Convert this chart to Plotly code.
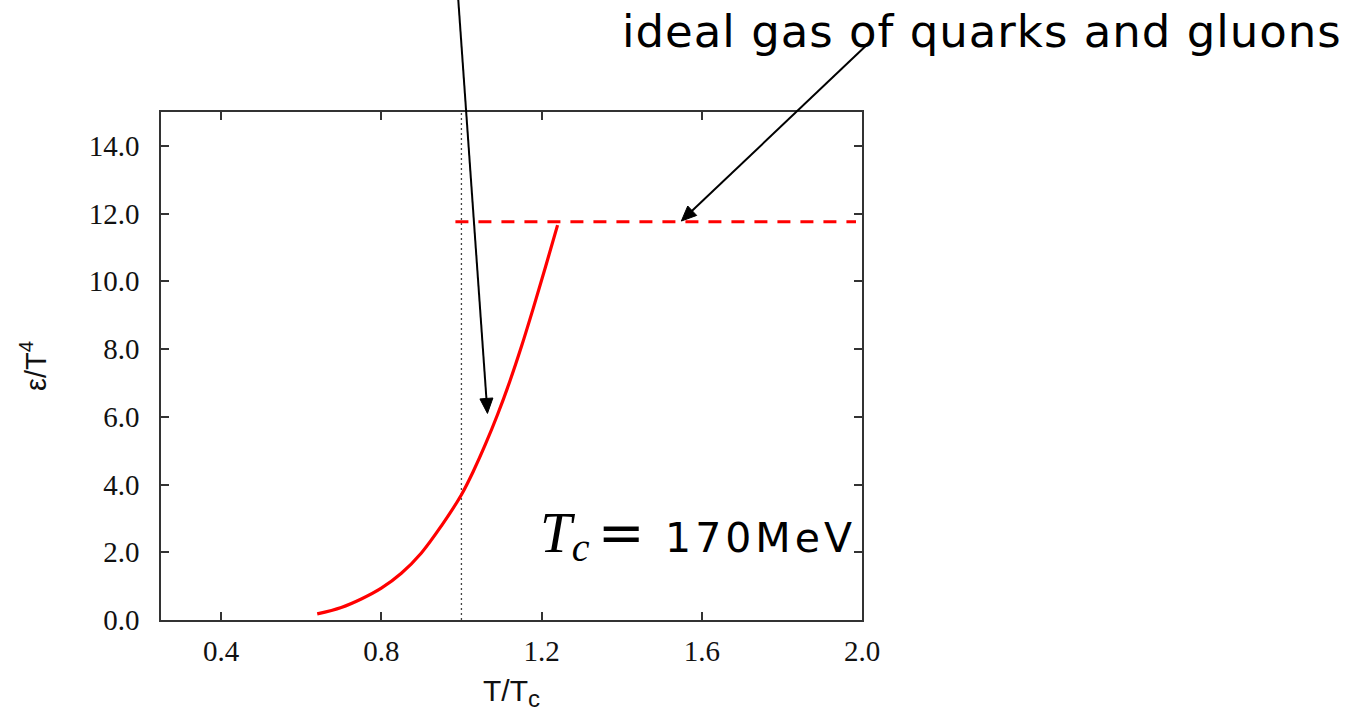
import math
import plotly.graph_objects as go

# ---- data ----
t_curve = [0.64, 0.70, 0.75, 0.80, 0.85, 0.90, 0.95, 1.00, 1.03, 1.06, 1.09, 1.12, 1.15, 1.18, 1.21, 1.24]
e_curve = [0.18, 0.37, 0.62, 0.94, 1.38, 1.98, 2.78, 3.70, 4.40, 5.19, 6.06, 7.02, 8.08, 9.23, 10.43, 11.66]
t_ideal = [0.985, 1.985]
e_ideal = [11.76, 11.76]
t_crit = [1.0, 1.0]
e_crit = [0.0, 15.0]
x_ticks = [0.4, 0.8, 1.2, 1.6, 2.0]
y_ticks = [0, 2, 4, 6, 8, 10, 12, 14]

W, H = 1348, 712
L, R, T, B = 161, 486, 112, 92
PW, PH = W - L - R, H - T - B
XR = [0.25, 2.0]
YR = [0, 15]


def px2paper(px, py):
    return (px - L) / PW, (H - B - py) / PH


def data2px(x, y):
    return (L + (x - XR[0]) / (XR[1] - XR[0]) * PW,
            H - B - (y - YR[0]) / (YR[1] - YR[0]) * PH)


def arrow_shapes(tail_px, tip_data, head_len=15, head_half=6.5, width=2):
    tx, ty = tail_px
    px, py = data2px(*tip_data)
    dx, dy = px - tx, py - ty
    n = math.hypot(dx, dy)
    ux, uy = dx / n, dy / n
    bx, by = px - head_len * ux, py - head_len * uy
    nx, ny = -uy, ux
    c1 = (bx + head_half * nx, by + head_half * ny)
    c2 = (bx - head_half * nx, by - head_half * ny)
    x0, y0 = px2paper(tx, ty)
    x1, y1 = px2paper(bx + 2 * ux, by + 2 * uy)
    line = dict(type="line", xref="paper", yref="paper", x0=x0, y0=y0, x1=x1, y1=y1,
                line=dict(color="#000000", width=width))
    pts = [px2paper(px, py), px2paper(*c1), px2paper(*c2)]
    path = "M{},{} L{},{} L{},{} Z".format(pts[0][0], pts[0][1], pts[1][0], pts[1][1], pts[2][0], pts[2][1])
    head = dict(type="path", xref="paper", yref="paper", path=path,
                fillcolor="#000000", line=dict(color="#000000", width=1))
    return [line, head]


fig = go.Figure()
fig.add_trace(go.Scatter(x=t_crit, y=e_crit, mode="lines",
                         line=dict(color="#444444", width=1.3, dash="2px,3px"),
                         showlegend=False, hoverinfo="skip"))
fig.add_trace(go.Scatter(x=t_ideal, y=e_ideal, mode="lines",
                         line=dict(color="#ff0000", width=3, dash="13px,10px"),
                         showlegend=False))
fig.add_trace(go.Scatter(x=t_curve, y=e_curve, mode="lines",
                         line=dict(color="#ff0000", width=3.2, shape="spline", smoothing=1.0),
                         showlegend=False))

axis_common = dict(showline=True, linecolor="#333333", linewidth=1.5, mirror="ticks",
                   ticks="inside", ticklen=8, tickwidth=1.5, tickcolor="#333333",
                   showgrid=False, zeroline=False,
                   tickfont=dict(family="Liberation Serif", size=29, color="#111111"))

fig.update_xaxes(range=XR, tickvals=x_ticks, tickformat=".1f",
                 ticklabelstandoff=4,
                 title=dict(text='T/T<sub><span style="font-size:24px">c</span></sub>', standoff=14,
                            font=dict(family="Liberation Sans", size=30, color="#111111")),
                 **axis_common)
fig.update_yaxes(range=YR, tickvals=y_ticks, tickformat=".1f",
                 ticklabelstandoff=14,
                 title=dict(text="ε/T<sup>4</sup>", standoff=34,
                            font=dict(family="Liberation Sans", size=29, color="#111111")),
                 **axis_common)

shapes = []
# arrow to the curve (tail above the top edge of the picture)
shapes += arrow_shapes((458, -4), (1.065, 6.10))
# arrow to the ideal gas line
shapes += arrow_shapes((872, 40), (1.549, 11.78))

annotations = []
xp, yp = px2paper(620, 31)
annotations.append(dict(x=xp, y=yp, xref="paper", yref="paper", xanchor="left", yanchor="middle",
                        showarrow=False,
                        text='<span style="letter-spacing:1px">ideal gas of quarks and gluons</span>',
                        font=dict(family="DejaVu Sans", size=45, color="#000000")))
xp, yp = px2paper(858, 535)
annotations.append(dict(x=xp, y=yp, xref="paper", yref="paper", xanchor="right", yanchor="middle",
                        showarrow=False,
                        text='<span style="font-family:Liberation Serif;font-style:italic;font-size:57px">T</span>'
                             '<sub><span style="font-family:Liberation Serif;font-style:italic;font-size:40px">c</span></sub>'
                             '\u2009<span style="font-size:56px">=</span>\u2002'
                             '<span style="letter-spacing:4px">170MeV</span>',
                        font=dict(family="DejaVu Sans", size=41, color="#000000")))

fig.update_layout(width=W, height=H, margin=dict(l=L, r=R, t=T, b=B, autoexpand=False),
                  paper_bgcolor="#ffffff", plot_bgcolor="#ffffff",
                  showlegend=False, annotations=annotations, shapes=shapes)

fig.write_html("out.html")
